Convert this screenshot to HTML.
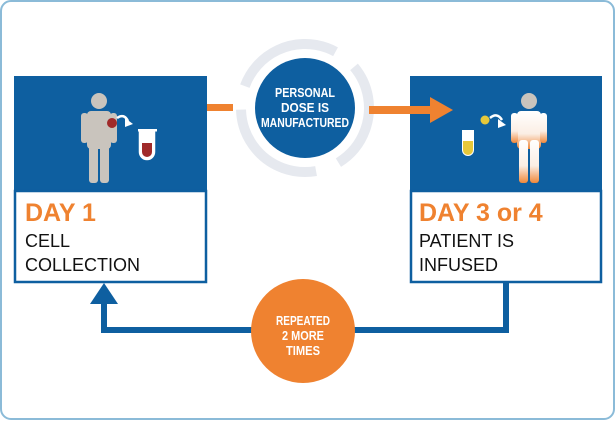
<!DOCTYPE html>
<html><head><style>
html,body{margin:0;padding:0;background:#fff;}
svg{display:block;}
</style></head><body>
<svg width="616" height="421" viewBox="0 0 616 421" xmlns="http://www.w3.org/2000/svg">
<defs>
<linearGradient id="fg" x1="0" y1="0" x2="0" y2="1">
<stop offset="0" stop-color="#fff"/><stop offset="0.6" stop-color="#fbeee4"/><stop offset="1" stop-color="#f0883a"/>
</linearGradient>
</defs>
<rect x="1" y="1" width="613" height="418" rx="10" fill="#fff" stroke="#8bbbd8" stroke-width="2"/>
<!-- gray ring -->
<circle cx="305" cy="108" r="64" fill="none" stroke="#e6e9ef" stroke-width="10" stroke-dasharray="110 24" transform="rotate(-160 305 108)"/>
<!-- left box -->
<rect x="14" y="76" width="193" height="115" fill="#0e5fa0"/>
<rect x="15" y="191" width="191" height="91" fill="#fff" stroke="#0e5fa0" stroke-width="2.5"/>
<!-- right box -->
<rect x="410" y="76" width="192" height="115" fill="#0e5fa0"/>
<rect x="411" y="191" width="190" height="91" fill="#fff" stroke="#0e5fa0" stroke-width="2.5"/>
<!-- orange connectors -->
<rect x="207" y="104" width="26" height="7" fill="#ef8230"/>
<rect x="369" y="106" width="64" height="8" fill="#ef8230"/>
<polygon points="430,97 453,110 430,123" fill="#ef8230"/>
<!-- blue circle -->
<circle cx="305" cy="108" r="50" fill="#0e5fa0"/>
<g font-family="'Liberation Sans',sans-serif" font-weight="bold" font-size="12.5" fill="#fff" text-anchor="middle">
<text x="305" y="97" textLength="60" lengthAdjust="spacingAndGlyphs">PERSONAL</text>
<text x="305" y="112" textLength="48" lengthAdjust="spacingAndGlyphs">DOSE IS</text>
<text x="305" y="127" textLength="88" lengthAdjust="spacingAndGlyphs">MANUFACTURED</text>
</g>
<!-- left person -->
<g fill="#c9c4bd">
<circle cx="99" cy="101" r="8"/>
<rect x="87" y="111" width="24" height="38" rx="4"/>
<rect x="81" y="113" width="7" height="30" rx="3"/>
<rect x="110" y="113" width="7" height="30" rx="3"/>
<rect x="89" y="140" width="9" height="43" rx="3"/>
<rect x="100" y="140" width="9" height="43" rx="3"/>
</g>
<circle cx="112" cy="123" r="5" fill="#a02a2a"/>
<path d="M117 118 q7 -5 11 3" stroke="#fff" stroke-width="2.5" fill="none"/>
<polygon points="125,118 133,124 125,127" fill="#fff"/>
<path d="M140 130 v22 a7 7 0 0 0 14 0 v-22" stroke="#fff" stroke-width="2.5" fill="#fff"/>
<rect x="138" y="129" width="19" height="2.5" fill="#fff"/>
<path d="M142 143 v9 a5 5 0 0 0 10 0 v-9 z" fill="#a02a2a"/>
<!-- right person -->
<circle cx="529" cy="101" r="8" fill="#c9c4bd"/>
<g fill="url(#fg)">
<rect x="517" y="111" width="24" height="38" rx="4"/>
<rect x="511" y="113" width="7" height="30" rx="3"/>
<rect x="540" y="113" width="7" height="30" rx="3"/>
<rect x="519" y="140" width="9" height="43" rx="3"/>
<rect x="530" y="140" width="9" height="43" rx="3"/>
</g>
<circle cx="485" cy="120" r="4.5" fill="#e6c83a"/>
<path d="M490 118 q7 -6 12 2" stroke="#fff" stroke-width="2.5" fill="none"/>
<polygon points="498,119 506,125 498,128" fill="#fff"/>
<path d="M462 130 v20 a6 6 0 0 0 12 0 v-20 z" fill="#fff"/>
<path d="M463 141 v9 a5 5 0 0 0 10 0 v-9 z" fill="#e6c83a"/>
<!-- text -->
<g font-family="'Liberation Sans',sans-serif">
<text x="25" y="221" font-size="25" font-weight="bold" fill="#ef8230">DAY 1</text>
<text x="25" y="247" font-size="18" fill="#111">CELL</text>
<text x="25" y="271" font-size="18" fill="#111">COLLECTION</text>
<text x="419" y="221" font-size="25" font-weight="bold" fill="#ef8230">DAY 3 or 4</text>
<text x="419" y="247" font-size="18" fill="#111">PATIENT IS</text>
<text x="419" y="271" font-size="18" fill="#111">INFUSED</text>
</g>
<!-- bottom loop -->
<polyline points="506,283 506,330 104,330 104,302" fill="none" stroke="#0e5fa0" stroke-width="6"/>
<polygon points="90,304 104,283 118,304" fill="#0e5fa0"/>
<circle cx="303" cy="331" r="52" fill="#ef8230"/>
<g font-family="'Liberation Sans',sans-serif" font-weight="bold" font-size="12.5" fill="#fff" text-anchor="middle">
<text x="303" y="325" textLength="54" lengthAdjust="spacingAndGlyphs">REPEATED</text>
<text x="303" y="340" textLength="42" lengthAdjust="spacingAndGlyphs">2 MORE</text>
<text x="303" y="355" textLength="34" lengthAdjust="spacingAndGlyphs">TIMES</text>
</g>
</svg>
</body></html>
